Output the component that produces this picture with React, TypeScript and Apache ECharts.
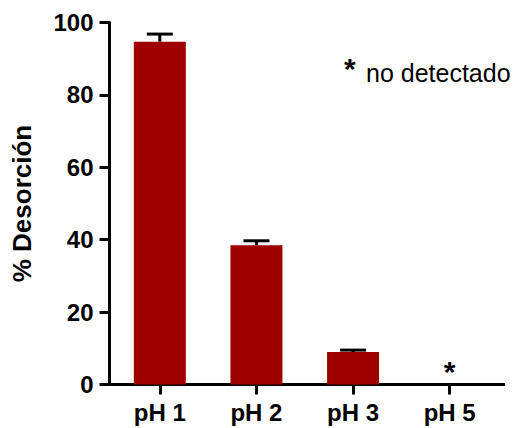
import React, { useEffect, useRef } from "react";
import * as echarts from "echarts";

const categories = ["pH 1", "pH 2", "pH 3", "pH 5"];
const desorption = [94.7, 38.5, 9.0, null];
const errors = [2.1, 1.2, 0.5, null];
const notDetected = [{ category: "pH 5", value: 0 }];
const yTicks = [0, 20, 40, 60, 80, 100];

const FONT = "'Liberation Sans', Arial, Helvetica, sans-serif";
const BAR_COLOR = "#9E0000";

export default function App() {
  const ref = useRef<HTMLDivElement>(null);
  useEffect(() => {
    if (!ref.current) return;
    const chart = echarts.init(ref.current, null, { renderer: "svg" });
    const errData = desorption
      .map((v, i) => (v == null || errors[i] == null ? null : [i, v, (v as number) + (errors[i] as number)]))
      .filter((d) => d != null);
    chart.setOption({
      animation: false,
      backgroundColor: "#ffffff",
      grid: { left: 111.5, right: 21, top: 22.5, bottom: 43.5, containLabel: false },
      xAxis: {
        type: "category",
        data: categories,
        axisLine: { show: true, lineStyle: { color: "#000", width: 3 } },
        axisTick: { show: true, alignWithLabel: true, length: 10, lineStyle: { color: "#000", width: 3 } },
        axisLabel: {
          color: "#000",
          fontFamily: FONT,
          fontWeight: "bold",
          fontSize: 24,
          margin: 16,
        },
      },
      yAxis: {
        type: "value",
        offset: 2,
        min: yTicks[0],
        max: yTicks[yTicks.length - 1],
        interval: 20,
        name: "% Desorción",
        nameLocation: "middle",
        nameGap: 75,
        nameRotate: 90,
        nameTextStyle: { color: "#000", fontFamily: FONT, fontWeight: "bold", fontSize: 26 },
        splitLine: { show: false },
        axisLine: { show: true, lineStyle: { color: "#000", width: 3 } },
        axisTick: { show: true, length: 10, lineStyle: { color: "#000", width: 3 } },
        axisLabel: {
          color: "#000",
          fontFamily: FONT,
          fontWeight: "bold",
          fontSize: 24,
          margin: 16,
        },
      },
      series: [
        {
          type: "bar",
          data: desorption,
          barWidth: 52,
          itemStyle: { color: BAR_COLOR },
          z: 2,
        },
        {
          type: "custom",
          data: errData,
          z: 3,
          renderItem: (params: any, api: any) => {
            const x = api.value(0);
            const top = api.coord([x, api.value(1)]);
            const hi = api.coord([x, api.value(2)]);
            const half = 13;
            const style = { stroke: "#000", lineWidth: 3 };
            return {
              type: "group",
              children: [
                { type: "line", shape: { x1: top[0], y1: top[1], x2: hi[0], y2: hi[1] }, style },
                { type: "line", shape: { x1: hi[0] - half, y1: hi[1], x2: hi[0] + half, y2: hi[1] }, style },
              ],
            };
          },
        },
        {
          type: "scatter",
          data: notDetected.map((d) => [d.category, d.value]),
          symbolSize: 0,
          itemStyle: { color: "#000", opacity: 1 },
          z: 4,
          label: {
            show: true,
            formatter: "*",
            position: "top",
            distance: -2,
            color: "#000",
            opacity: 1,
            textBorderWidth: 0,
            fontFamily: FONT,
            fontWeight: "bold",
            fontSize: 30,
          },
        },
      ],
      graphic: [
        {
          type: "line",
          shape: { x1: 497, y1: 384.5, x2: 505, y2: 384.5 },
          style: { stroke: "#000", lineWidth: 3 },
        },
        {
          type: "text",
          x: 344,
          y: 53,
          style: { text: "*", fill: "#000", font: `bold 30px ${FONT}` },
        },
        {
          type: "text",
          x: 366,
          y: 60,
          style: { text: "no detectado", fill: "#000", font: `25px ${FONT}` },
        },
      ],
    });
    return () => chart.dispose();
  }, []);
  return <div ref={ref} style={{ width: 519, height: 428, position: "absolute", left: 0, top: 0 }} />;
}
